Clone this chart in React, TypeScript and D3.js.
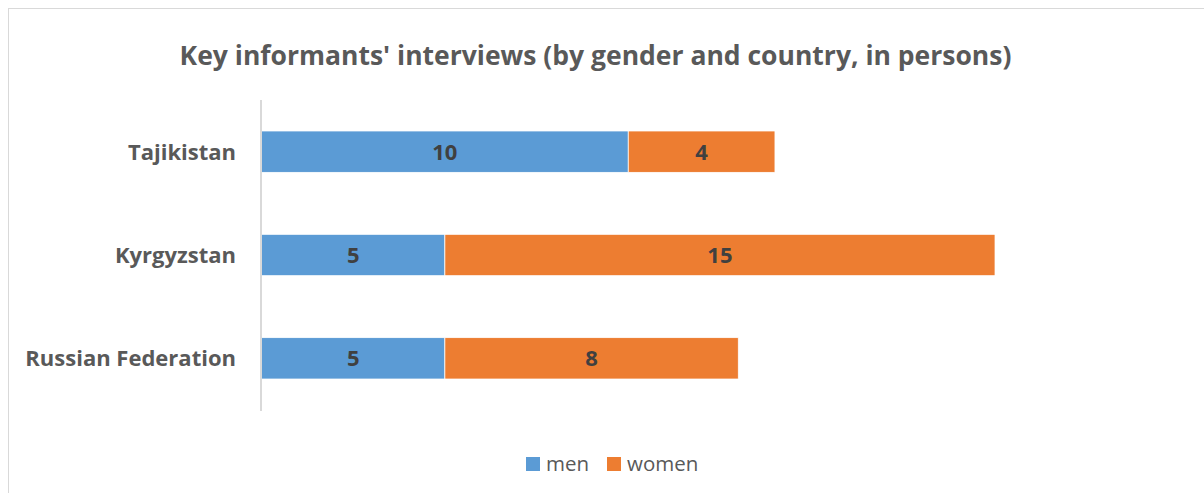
import React from "react";
import * as d3 from "d3";

const categories = ["Tajikistan", "Kyrgyzstan", "Russian Federation"];
const men = [10, 5, 5];
const women = [4, 15, 8];
const seriesNames = ["men", "women"];
const colors = ["#5B9BD5", "#ED7D31"];
const title = "Key informants' interviews (by gender and country, in persons)";

const W = 1204;
const H = 493;
const FONT = "'Open Sans', Lato, sans-serif";

export default function App() {
  const x = d3.scaleLinear().domain([0, 20]).range([261.5, 995]);
  const y = d3.scaleBand().domain(categories).range([100, 410]).paddingInner(0.6).paddingOuter(0.3);
  const rows = categories.map((c, i) => ({ cat: c, men: men[i], women: women[i] }));
  const stack = d3.stack<any>().keys(seriesNames)(rows);

  return (
    <svg width={W} height={H} style={{ position: "absolute", left: 0, top: 0 }}>
      <rect x={0} y={0} width={W} height={H} fill="#fff" />
      <rect x={8.5} y={8.5} width={W + 10} height={H + 10} fill="#fff" stroke="#D9D9D9" strokeWidth={1} />
      <text x={595.5} y={65} textAnchor="middle" fontFamily={FONT} fontWeight="bold" fontSize={26.5} fill="#595959">
        {title}
      </text>
      {stack.map((s, si) =>
        s.map((d, i) => {
          const x0 = x(d[0]);
          const x1 = x(d[1]);
          const yy = y(categories[i])!;
          return (
            <g key={si + "-" + i}>
              <rect x={x0} y={yy} width={x1 - x0} height={y.bandwidth()} fill={colors[si]} stroke="#fff" strokeWidth={0.75} />
              <text x={(x0 + x1) / 2} y={yy + y.bandwidth() / 2} dy="0.36em" textAnchor="middle" fontFamily={FONT} fontWeight="bold" fontSize={22} fill="#404040">
                {d[1] - d[0]}
              </text>
            </g>
          );
        })
      )}
      <line x1={261} x2={261} y1={100} y2={411} stroke="#D9D9D9" strokeWidth={2} />
      {categories.map((c) => (
        <text key={c} x={236} y={y(c)! + y.bandwidth() / 2} dy="0.36em" textAnchor="end" fontFamily={FONT} fontWeight="bold" fontSize={22} fill="#595959">
          {c}
        </text>
      ))}
      <g>
        <rect x={526} y={457} width={14} height={14} fill={colors[0]} />
        <text x={546} y={464} dy="0.36em" fontFamily={FONT} fontSize={20.5} fill="#595959">{seriesNames[0]}</text>
        <rect x={607} y={457} width={14} height={14} fill={colors[1]} />
        <text x={627} y={464} dy="0.36em" fontFamily={FONT} fontSize={20.5} fill="#595959">{seriesNames[1]}</text>
      </g>
    </svg>
  );
}
